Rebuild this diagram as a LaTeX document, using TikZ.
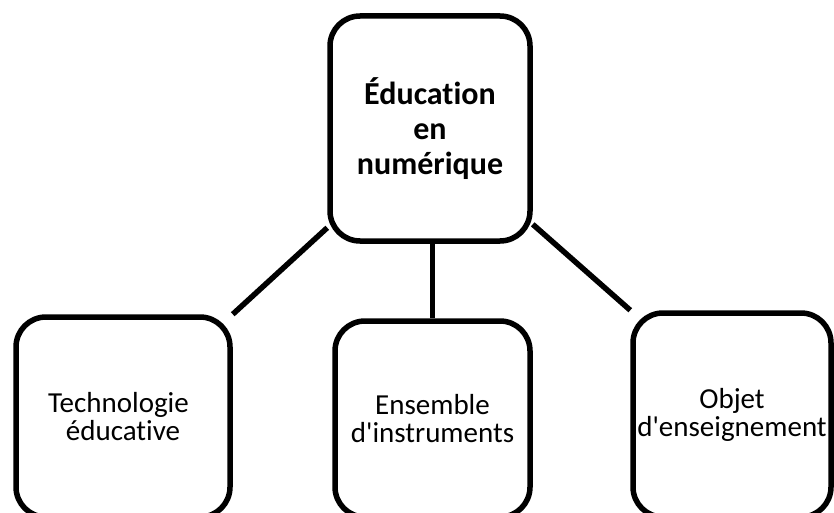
\documentclass[tikz,border=0pt]{standalone}
\usepackage{fontspec}
\setmainfont{Carlito}[Ligatures={TeXOff,CommonOff}]
\begin{document}
\begin{tikzpicture}[x=1pt,y=1pt,
  box/.style={draw=black, line width=5.5pt, rounded corners=30pt, inner sep=0pt, align=center},
  topbox/.style={box, font=\fontsize{32}{35}\selectfont\bfseries},
  subbox/.style={box, font=\fontsize{29}{28}\selectfont},
  link/.style={draw=black, line width=5.5pt}]
\path[use as bounding box] (0,0) rectangle (834,-513);
\clip (0,0) rectangle (834,-513);
\node[topbox, minimum width=200pt, minimum height=225pt] (top) at (430,-128.5) {Éducation\\en\\numérique};
\node[subbox, minimum width=214pt, minimum height=200pt] (left) at (123,-417) {Technologie\hspace*{9pt}\\éducative};
\node[subbox, minimum width=195pt, minimum height=196pt] (mid) at (432.5,-419) {Ensemble\\d'instruments};
\node[subbox, minimum width=198pt, minimum height=204pt] (right) at (732,-415) {Objet\\d'enseignement};
\draw[link] (top.224) -- (left.north east);
\draw[link] (top.south -| mid.north) -- (mid.north);
\draw[link] (top.-43) -- (right.north west);
\end{tikzpicture}
\end{document}
